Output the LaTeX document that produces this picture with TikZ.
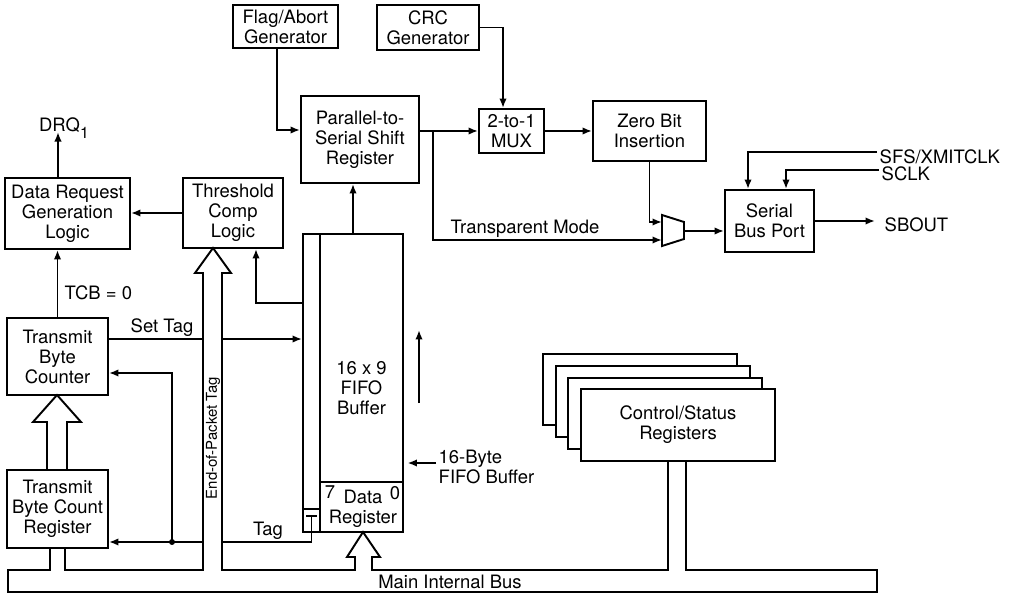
\documentclass[tikz,border=0pt]{standalone}
\usepackage{fontspec}
\setmainfont{TeX Gyre Heros}
\usetikzlibrary{positioning, calc, arrows.meta}

\begin{document}
\begin{tikzpicture}[x=0.02cm, y=-0.02cm, line width=1.1pt,
    font=\fontsize{10.5}{11.4}\selectfont,
    blk/.style 2 args={draw, fill=white, align=center, inner sep=1pt,
        minimum width=#1*0.02cm, minimum height=#2*0.02cm},
    arr/.style={-{Latex[length=1.9mm, width=1.5mm]}},
    lbl/.style={inner sep=1pt}]

    \useasboundingbox (0,0) rectangle (1013,594);

    % top row
    \node[blk={105}{43}] (flag) at (285.5,26.5) {Flag/Abort\\Generator};
    \node[blk={102}{45}] (crc)  at (428,27.5)   {CRC\\Generator};
    \node[blk={118}{87}] (pts)  at (360,139.5)  {Parallel-to-\\Serial Shift\\Register};
    \node[blk={65}{44}]  (mux)  at (511.5,131)  {2-to-1\\MUX};
    \node[blk={113}{60}] (zbi)  at (649.5,131)  {Zero Bit\\Insertion};
    \node[blk={89}{62}]  (sbp)  at (769.5,221)  {Serial\\Bus Port};

    % left column
    \node[blk={125}{71}] (drg)  at (67.5,213.5) {Data Request\\Generation\\Logic};
    \node[blk={100}{70}] (thr)  at (233,213)    {Threshold\\Comp\\Logic};
    \node[blk={101}{77}] (tbc)  at (57.5,356.5) {Transmit\\Byte\\Counter};
    \node[blk={101}{78}] (tbcr) at (57.5,509)   {Transmit\\Byte Count\\Register};

    % FIFO: tag column, buffer and data register
    \node[blk={100}{298}] (fifo) at (353,383) {};
    \draw (320,234) -- (320,532);
    \draw (320,482) -- (403,482);
    \draw (303,509) -- (320,509);
    \draw (306,516) -- (317,516);
    \coordinate (tbit) at (311.5,516);
    \node[align=center] (fifotxt) at (361.5,388) {16 x 9\\FIFO\\Buffer};
    \node[align=center] (dreg) at (363,509) {Data\\Register};
    \node[lbl] at (330,492) {7};
    \node[lbl] at (395,493) {0};

    % control/status registers, back to front
    \foreach \i in {3,2,1} {
        \node[blk={194}{71}] (csr\i) at ({678-12.7*\i},{425-11.7*\i}) {};
    }
    \node[blk={194}{72}] (csr0) at (678,425) {Control/Status\\Registers};

    % transparent-mode mux
    \coordinate (mxa) at (662,222);
    \coordinate (mxb) at (662,240);
    \coordinate (mxo) at (684,231);
    \draw (662,215) -- (684,222) -- (684,239) -- (662,246) -- cycle;

    % serial path
    \draw[arr] ([xshift=-0.17cm]flag.south) |- ([yshift=0.19cm]pts.west);
    \draw[arr] (crc.east) -| ([xshift=-0.17cm]mux.north);
    \draw[arr] (pts.east |- mux.west) -- (mux.west);
    \coordinate (tpbr) at (433,131);
    \draw[arr] (tpbr) |- (mxb);
    \node[lbl, above] at (525,240) {Transparent Mode};
    \draw[arr] (mux.east) -- (zbi.west);
    \draw[arr] (zbi.south) |- (mxa);
    \draw[arr] (mxo) -- (sbp.west |- mxo);
    \draw[arr] (fifo.north) -- (fifo.north |- pts.south);

    % serial bus port pins
    \node[lbl, right] (sfs) at (877,157) {SFS/XMITCLK};
    \node[lbl, right] (sclk) at (879,174) {SCLK};
    \node[lbl, right] (sbout) at (882,225) {SBOUT};
    \draw[arr] ([yshift=0.1cm]sfs.west) -| ([xshift=-0.43cm]sbp.north);
    \draw[arr] ([yshift=0.08cm]sclk.west) -| ([xshift=0.33cm]sbp.north);
    \draw[arr] (sbp.east) -- ([xshift=-0.14cm]sbout.west |- sbp.east);

    % request logic
    \draw[arr] ([xshift=-0.19cm]drg.north) -- ++(0,-45) coordinate (drqtip);
    \node[lbl, anchor=base] (drq) at (64,132) {DRQ\raisebox{-0.7ex}{\fontsize{9}{9}\selectfont 1}};
    \draw[arr] (thr.west) -- (drg.east |- thr.west);
    \draw[arr] (tbc.north) -- (tbc.north |- drg.south);
    \node[lbl, right] at (62,293) {TCB = 0};
    \draw[arr] ([yshift=1.6cm]fifo.west) -| ([xshift=0.46cm]thr.south);

    % tag lines
    \draw[arr] ([yshift=0.35cm]tbc.east) -- ([yshift=0.35cm]tbc.east -| fifo.west);
    \node[lbl, above] at (162,339) {Set Tag};
    \draw[arr] (tbit) |- ([yshift=-0.66cm]tbcr.east);
    \node[lbl, above] at (268,542) {Tag};
    \coordinate (tagdot) at (172,542);
    \fill (tagdot) circle (1.7pt);
    \draw[arr] (tagdot) |- ([yshift=-0.33cm]tbc.east);

    % FIFO direction and size note
    \draw[arr] (419,403) -- (419,330);
    \node[lbl, right, align=left] (fbtxt) at (436,467) {16-Byte\\FIFO Buffer};
    \draw[arr, shorten >=2pt] ([yshift=0.08cm]fbtxt.west) -- ([yshift=0.08cm]fbtxt.west -| fifo.east);

    % wide arrows and main internal bus
    \fill[white] (203,571) -- (203,273) -- (195,273) -- (213,248) -- (231,273)
        -- (222,273) -- (222,571) -- cycle;
    \draw (47,470) -- (47,422) -- (33,422) -- (57,395) -- (81,422) -- (67,422) -- (67,470);
    \draw (50,548) -- (50,570) -- (8,570) -- (8,592) -- (877,592) -- (877,570)
        -- (686,570) -- (686,461);
    \draw (65,548) -- (65,570) -- (203,570) -- (203,273) -- (195,273) -- (213,248)
        -- (231,273) -- (222,273) -- (222,570) -- (355,570) -- (355,557) -- (347,557)
        -- (363,532) -- (380,557) -- (372,557) -- (372,570) -- (668,570) -- (668,461);
    \node[rotate=90, font=\fontsize{8.5}{9}\selectfont] at (213,438) {End-of-Packet Tag};
    \node[lbl] at (450,582) {Main Internal Bus};
\end{tikzpicture}
\end{document}
